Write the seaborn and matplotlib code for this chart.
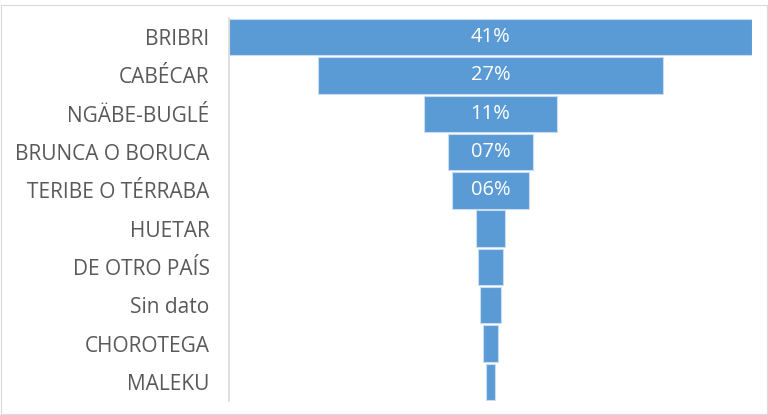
import seaborn as sns
import matplotlib.pyplot as plt
import pandas as pd
from matplotlib.patches import Rectangle

# porcentaje por pueblo indígena
pueblos = ["BRIBRI", "CABÉCAR", "NGÄBE-BUGLÉ", "BRUNCA O BORUCA", "TERIBE O TÉRRABA",
           "HUETAR", "DE OTRO PAÍS", "Sin dato", "CHOROTEGA", "MALEKU"]
porcentaje = [41.0, 27.0, 10.5, 6.7, 6.0, 2.3, 2.0, 1.6, 1.25, 0.7]
etiquetas = ["41%", "27%", "11%", "07%", "06%", "", "", "", "", ""]

df = pd.DataFrame({"pueblo": pueblos, "pct": porcentaje})
vmax = max(porcentaje)
offsets = [(vmax - v) / 2 for v in porcentaje]

sns.set_theme(style="white")
plt.rcParams["font.family"] = ["Open Sans", "DejaVu Sans"]

fig = plt.figure(figsize=(7.68, 4.15), dpi=100)
ax = fig.add_axes([229 / 768, 1 - 401 / 415, 523 / 768, 383 / 415])

sns.barplot(data=df, y="pueblo", x="pct", order=pueblos, color="#5B9BD5",
            saturation=1, width=0.95, edgecolor="#c9dcf0", linewidth=0.8,
            left=offsets, ax=ax)

for p, lab in zip(ax.patches, etiquetas):
    if lab:
        ax.text(p.get_x() + p.get_width() / 2, p.get_y() + p.get_height() / 2, lab,
                ha="center", va="center", color="white", fontsize=14.5)

ax.set_xlim(0, vmax)
ax.set_ylim(9.5, -0.5)
ax.set_xlabel("")
ax.set_ylabel("")
ax.set_xticks([])
ax.tick_params(axis="y", length=0, pad=14, labelsize=15, labelcolor="#595959")
for s in ["top", "right", "bottom"]:
    ax.spines[s].set_visible(False)
ax.spines["left"].set_color("#D9D9D9")
ax.spines["left"].set_linewidth(1.2)

fig.patches.append(Rectangle((1 / 768, 1 / 415), 766 / 768, 409 / 415, transform=fig.transFigure,
                             fill=False, edgecolor="#D9D9D9", linewidth=0.8))

fig.savefig("out.png", dpi=100)
